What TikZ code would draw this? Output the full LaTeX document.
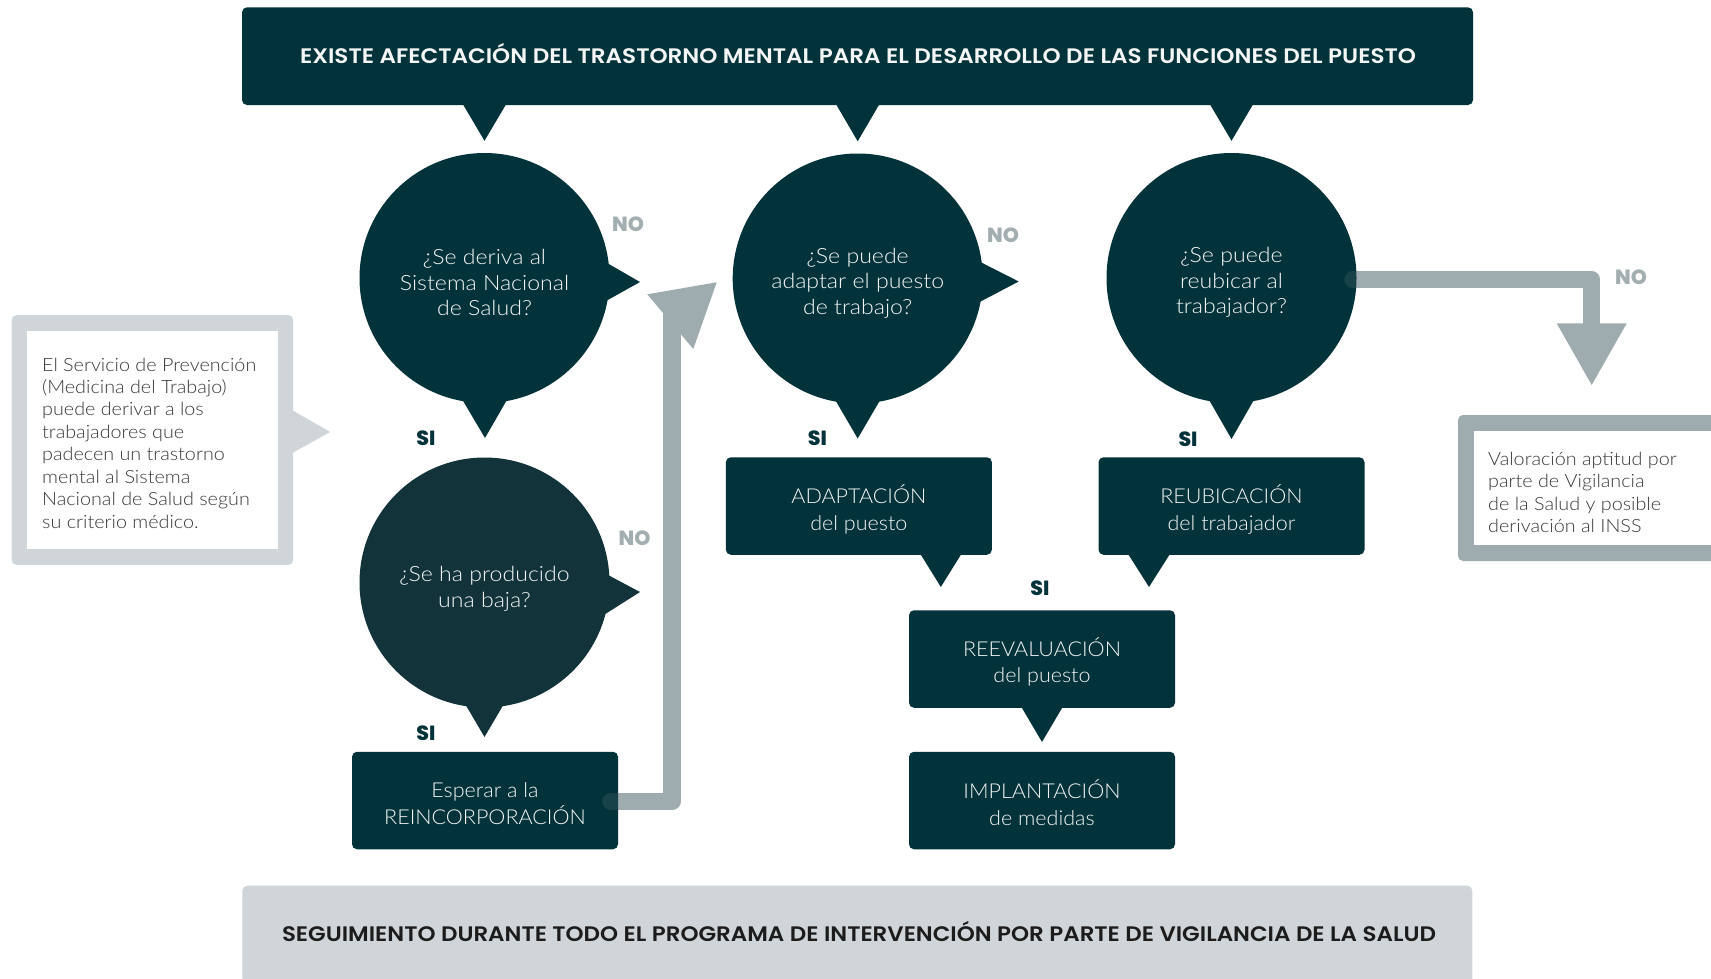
\documentclass[tikz,border=0pt]{standalone}
\usepackage{fontspec}
\usepackage{graphicx}
\usetikzlibrary{calc}
\IfFontExistsTF{Lato Light}{%
  \newfontfamily\lightc{Lato Light}[FakeStretch=1.10]%
  \newfontfamily\lights{Lato Light}[FakeStretch=1.08]%
  \newfontfamily\lightb{Lato Light}[FakeStretch=1.05]}{%
  \newfontfamily\lightc{Lato}[FakeStretch=1.10]%
  \newfontfamily\lights{Lato}[FakeStretch=1.08]%
  \newfontfamily\lightb{Lato}[FakeStretch=1.05]}
\IfFontExistsTF{Poppins SemiBold}{\newfontfamily\headf{Poppins SemiBold}}{\newfontfamily\headfb{Poppins}\def\headf{\headfb\bfseries}}
\IfFontExistsTF{Poppins ExtraBold}{\newfontfamily\sinof{Poppins ExtraBold}}{\newfontfamily\sinofb{Poppins}\def\sinof{\sinofb\bfseries}}
\definecolor{dk}{HTML}{03333A}
\definecolor{dkb}{HTML}{13333B}
\definecolor{gy}{HTML}{9FACAF}
\definecolor{lg}{HTML}{CFD5D8}
\definecolor{nog}{HTML}{A3AEB1}
\definecolor{wt}{HTML}{F4F6F6}
\definecolor{btxt}{HTML}{1C1C1C}
\definecolor{ltxt}{HTML}{3A3A3A}
\newcommand\fitto[2]{\setbox0=\hbox{#2}\pgfmathsetmacro\fitfac{#1/\the\wd0}\scalebox{\fitfac}[1]{\box0}}
\begin{document}
\begin{tikzpicture}[x=1pt,y=-1pt,
  qcirc/.style={circle, fill=dk, minimum size=250pt, inner sep=0pt},
  qtext/.style={inner sep=0pt, text=wt, align=center, font=\lightc\fontsize{21}{25.6}\selectfont},
  dkbox/.style={rectangle, rounded corners=5pt, fill=dk, minimum width=266pt, minimum height=97.5pt,
    inner sep=0pt},
  btext/.style={inner sep=0pt, text=wt, align=center, font=\lightb\fontsize{20.5}{26.5}\selectfont},
  lbl/.style={anchor=base, inner sep=0pt, font=\sinof\fontsize{20.5}{20.5}\selectfont},
  silbl/.style={lbl, text=dk},
  nolbl/.style={lbl, text=nog},
  garrow/.style={draw=gy, line width=17.4pt, line join=round, line cap=round},
  sidetext/.style={anchor=west, inner sep=0pt, align=left, text=ltxt,
    font=\lights\fontsize{18.3}{22.45}\selectfont},
  headtext/.style={anchor=base, inner sep=0pt, font=\headf\fontsize{21}{21}\selectfont}
]
\useasboundingbox (0,0) rectangle (1711,978);
\clip (0,0) rectangle (1711,978);
\fill[white] (0,0) rectangle (1711,978);

% ---------- top bar ----------
\node[fill=dk, rounded corners=5pt, minimum width=1231pt, minimum height=97.7pt, inner sep=0pt] (top) at (857.5,56.15) {};
\node[headtext, text=wt] (toptext) at (858,63.5) {\fitto{1116}{EXISTE AFECTACIÓN DEL TRASTORNO MENTAL PARA EL DESARROLLO DE LAS FUNCIONES DEL PUESTO}};

\coordinate (g1end) at (672,305);
\coordinate (g2end) at (1591.7,326);

% ---------- circles ----------
\node[qcirc] (c1) at (484.5,278) {};
\node[qcirc, fill=dkb] (c2) at (484.5,582.5) {};
\node[qcirc] (c3) at (857.7,278.5) {};

\draw[garrow] (1353,279.5) coordinate (g2start) -| (g2end);
\node[qcirc] (c4) at (1231.5,278) {};
\draw[garrow, draw opacity=0.13] (g2start) -- ++(3,0);
\fill[gy] ($(g2end)+(-35,-2.7)$) -- ($(g2end)+(35,-2.7)$) -- ($(g2end)+(0,59)$) -- cycle;

% top-bar pointers
\foreach \c in {c1,c3,c4}{
  \fill[dk] ($(top.south -| \c)+(-24,-5)$) -- ($(\c.north)+(0,-12)$) -- ($(top.south -| \c)+(24,-5)$) -- cycle;
}

% circle tails
\fill[dk] ($(c1.center)+(100,-28)$) -- ($(c1.center)+(155.5,4)$) -- ($(c1.center)+(100,35)$) -- cycle;
\fill[dk] ($(c1.center)+(-35,100)$) -- ($(c1.center)+(0.5,160)$) -- ($(c1.center)+(35,100)$) -- cycle;
\fill[dkb] ($(c2.center)+(100,-20)$) -- ($(c2.center)+(155.5,9.5)$) -- ($(c2.center)+(100,44.7)$) -- cycle;
\fill[dkb] ($(c2.center)+(-32,100)$) -- ($(c2.center)+(0,154.5)$) -- ($(c2.center)+(32,100)$) -- cycle;
\fill[dk] ($(c3.center)+(100,-28)$) -- ($(c3.center)+(161,3)$) -- ($(c3.center)+(100,35)$) -- cycle;
\fill[dk] ($(c3.center)+(-35,100)$) -- ($(c3.center)+(0,160)$) -- ($(c3.center)+(35,100)$) -- cycle;
\fill[dk] ($(c4.center)+(-35,100)$) -- ($(c4.center)+(0,161)$) -- ($(c4.center)+(35,100)$) -- cycle;

% circle texts
\node[qtext] (c1t) at ($(c1.center)+(0,4.5)$) {¿Se deriva al\\Sistema Nacional\\de Salud?};
\node[qtext] (c2t) at ($(c2.center)+(0,6)$) {¿Se ha producido\\una baja?};
\node[qtext] (c3t) at ($(c3.center)+(0,4.5)$) {¿Se puede\\adaptar el puesto\\de trabajo?};
\node[qtext] (c4t) at ($(c4.center)+(0,4.5)$) {¿Se puede\\reubicar al\\trabajador?};

% ---------- boxes ----------
\draw[garrow] (611,801.4) coordinate (g1start) -| (g1end);
\node[dkbox] (esp) at (485,800.5) {};
\draw[garrow, draw opacity=0.13] (g1start) -- ++(7,0);
\fill[gy] (647.3,294.3) -- (716.7,282.3) -- (693.3,349) -- cycle;

\node[dkbox] (adapt) at (858.85,506) {};
\node[dkbox] (reub) at (1231.5,506) {};
\node[dkbox] (reev) at (1042,659) {};
\node[dkbox] (impl) at (1042,800.5) {};

\node[btext] (espt) at ($(esp.center)+(0,3)$) {Esperar a la\\REINCORPORACIÓN};
\node[btext] (adaptt) at ($(adapt.center)+(0,3.5)$) {ADAPTACIÓN\\del puesto};
\node[btext] (reubt) at ($(reub.center)+(0,3.5)$) {REUBICACIÓN\\del trabajador};
\node[btext] (reevt) at ($(reev.center)+(0,3)$) {REEVALUACIÓN\\del puesto};
\node[btext] (implt) at ($(impl.center)+(0,2)$) {IMPLANTACIÓN\\de medidas};

\fill[dk] ($(adapt.south)+(59,-5)$) -- ($(adapt.south)+(82,32)$) -- ($(adapt.south)+(105,-5)$) -- cycle;
\fill[dk] ($(reub.south)+(-106,-5)$) -- ($(reub.south)+(-82.5,32)$) -- ($(reub.south)+(-59,-5)$) -- cycle;
\fill[dk] ($(reev.south)+(-23,-5)$) -- ($(reev.south)+(0,34)$) -- ($(reev.south)+(23,-5)$) -- cycle;

% ---------- side boxes ----------
\node[fill=lg, rounded corners=5pt, minimum width=281.3pt, minimum height=250pt, inner sep=0pt] (lbox) at (152.35,440) {};
\fill[white] (26.7,331) rectangle (278,549);
\fill[lg] ($(lbox.east)+(-10,-35)$) -- ($(lbox.east)+(37,-8)$) -- ($(lbox.east)+(-10,18)$) -- cycle;
\node[sidetext] (ltext) at (42,443) {El Servicio de Prevención\\(Medicina del Trabajo)\\puede derivar a los\\trabajadores que\\padecen un trastorno\\mental al Sistema\\Nacional de Salud según\\su criterio médico.};

\node[fill=gy, rounded corners=5pt, minimum width=280pt, minimum height=146pt, inner sep=0pt] (rbox) at (1598,488) {};
\fill[white] (1473.6,431) rectangle (1745,545);
\node[sidetext] (rtext) at (1488,492.5) {Valoración aptitud por\\parte de Vigilancia\\de la Salud y posible\\derivación al INSS};

% ---------- labels ----------
\node[nolbl] (no1) at (628,231) {NO};
\node[silbl] (si1) at (426,445) {SI};
\node[nolbl] (no2) at (634.5,545) {NO};
\node[silbl] (si2) at (426,740) {SI};
\node[nolbl] (no3) at (1003,242.5) {NO};
\node[silbl] (si3) at (817.3,445) {SI};
\node[silbl] (si4) at (1188,446) {SI};
\node[silbl] (si5) at (1040,595) {SI};
\node[nolbl] (no4) at (1631,284.3) {NO};

% ---------- bottom bar ----------
\node[fill=lg, rounded corners=5pt, minimum width=1230pt, minimum height=110pt, inner sep=0pt] (bot) at (857.3,940.7) {};
\node[headtext, text=btxt] (bottext) at (859,941.7) {\fitto{1154}{SEGUIMIENTO DURANTE TODO EL PROGRAMA DE INTERVENCIÓN POR PARTE DE VIGILANCIA DE LA SALUD}};
\end{tikzpicture}
\end{document}
